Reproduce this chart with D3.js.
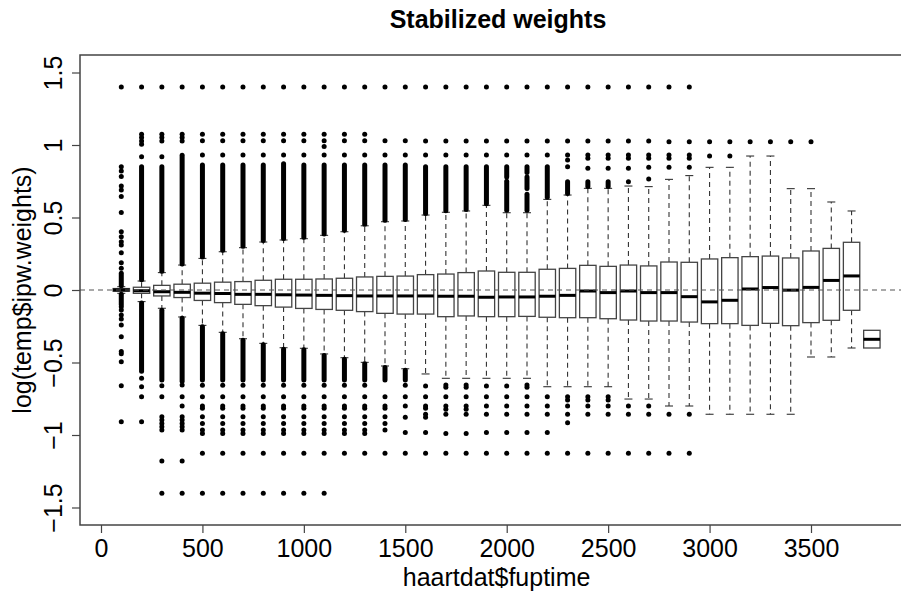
<!DOCTYPE html>
<html>
<head>
<meta charset="utf-8">
<script src="https://cdn.jsdelivr.net/npm/d3@7"></script>
<style>
    body { margin: 0; background: #fff; }
    #chartContainer { width: 901px; height: 593px; }
</style>
</head>
<body>
<div id="chartContainer"></div>
<script>
// follow-up time of each box (days)
const fuptime = [100, 200, 300, 400, 500, 600, 700, 800, 900, 1000,
    1100, 1200, 1300, 1400, 1500, 1600, 1700, 1800, 1900, 2000,
    2100, 2200, 2300, 2400, 2500, 2600, 2700, 2800, 2900, 3000,
    3100, 3200, 3300, 3400, 3500, 3600, 3700, 3800];

const upperQ = [0.010, 0.019, 0.032, 0.040, 0.047, 0.054, 0.058, 0.067, 0.074, 0.074,
    0.076, 0.081, 0.090, 0.094, 0.096, 0.106, 0.110, 0.120, 0.131, 0.122,
    0.122, 0.143, 0.149, 0.170, 0.163, 0.172, 0.166, 0.193, 0.191, 0.214,
    0.223, 0.230, 0.234, 0.221, 0.269, 0.287, 0.329, -0.278];

const medians = [0.000, -0.005, -0.012, -0.016, -0.022, -0.024, -0.030, -0.030, -0.033, -0.035,
    -0.037, -0.039, -0.041, -0.041, -0.041, -0.041, -0.043, -0.043, -0.050, -0.048,
    -0.048, -0.043, -0.037, -0.007, -0.018, -0.007, -0.018, -0.018, -0.046, -0.082,
    -0.071, 0.007, 0.017, -0.001, 0.018, 0.066, 0.097, -0.340];

const lowerQ = [-0.008, -0.023, -0.041, -0.052, -0.072, -0.087, -0.099, -0.108, -0.118, -0.127,
    -0.134, -0.140, -0.149, -0.161, -0.166, -0.166, -0.184, -0.179, -0.184, -0.184,
    -0.182, -0.188, -0.191, -0.191, -0.198, -0.207, -0.214, -0.214, -0.221, -0.232,
    -0.232, -0.244, -0.230, -0.246, -0.225, -0.209, -0.140, -0.400];

const whiskerHi = [0.023, 0.062, 0.120, 0.172, 0.218, 0.264, 0.292, 0.331, 0.345, 0.354,
    0.377, 0.402, 0.443, 0.471, 0.476, 0.517, 0.536, 0.545, 0.584, 0.533,
    0.533, 0.625, 0.655, 0.701, 0.701, 0.717, 0.713, 0.763, 0.789, 0.846,
    0.846, 0.924, 0.924, 0.699, 0.699, 0.607, 0.545, -0.278];

const whiskerLo = [-0.023, -0.080, -0.126, -0.186, -0.244, -0.292, -0.336, -0.368, -0.398, -0.402,
    -0.441, -0.467, -0.499, -0.524, -0.543, -0.579, -0.609, -0.609, -0.609, -0.609,
    -0.609, -0.667, -0.667, -0.667, -0.667, -0.752, -0.752, -0.800, -0.800, -0.857,
    -0.857, -0.857, -0.857, -0.857, -0.462, -0.462, -0.400, -0.400];

// single outlying points
const outliers = [
    [1.4, 0.85, 0.821, 0.782, 0.717, 0.69, 0.644, 0.534, 0.402, 0.368, 0.333, 0.31, 0.257, 0.188, 0.15,
        -0.115, -0.138, -0.172, -0.2, -0.241, -0.322, -0.425, -0.44, -0.494, -0.66, -0.908],
    [1.4, 1.074, 1.051, 1.028, 1.005, 0.919, -0.609, -0.667, -0.736, -0.908],
    [1.4, 1.074, 1.051, 1.028, 0.919, -0.66, -0.736, -0.874, -0.897, -0.92, -0.943, -0.966, -1.179, -1.402],
    [1.4, 1.074, 1.051, 1.028, -0.655, -0.736, -0.8, -0.874, -0.897, -0.92, -0.943, -0.966, -1.179, -1.402],
    [1.4, 1.074, 1.03, 0.931, -0.657, -0.736, -0.8, -0.816, -0.874, -0.92, -0.966, -0.989, -1.126, -1.402],
    [1.4, 1.074, 1.03, 0.931, -0.657, -0.736, -0.8, -0.816, -0.874, -0.92, -0.966, -0.989, -1.126, -1.402],
    [1.4, 1.074, 1.03, 0.931, -0.657, -0.736, -0.8, -0.816, -0.874, -0.92, -0.966, -0.989, -1.126, -1.402],
    [1.4, 1.074, 1.03, 0.931, -0.657, -0.736, -0.8, -0.816, -0.874, -0.92, -0.966, -0.989, -1.126, -1.402],
    [1.4, 1.074, 1.03, 0.931, -0.657, -0.736, -0.8, -0.816, -0.874, -0.92, -0.966, -0.989, -1.126, -1.402],
    [1.4, 1.074, 1.03, 0.931, -0.657, -0.736, -0.8, -0.816, -0.874, -0.92, -0.966, -0.989, -1.126, -1.402],
    [1.4, 1.074, 1.03, 0.99, 0.931, -0.657, -0.736, -0.8, -0.816, -0.874, -0.92, -0.966, -0.989, -1.126, -1.402],
    [1.4, 1.074, 1.03, 0.931, -0.657, -0.736, -0.8, -0.816, -0.874, -0.92, -0.966, -0.989, -1.126],
    [1.4, 1.074, 1.03, 0.931, -0.657, -0.736, -0.8, -0.816, -0.874, -0.92, -0.966, -0.989, -1.126],
    [1.4, 1.03, 0.931, -0.736, -0.8, -0.816, -0.874, -0.92, -0.966, -1.126],
    [1.4, 1.03, 0.931, -0.657, -0.736, -0.8, -0.878, -0.982, -1.126],
    [1.4, 1.028, 0.931, -0.662, -0.736, -0.8, -0.816, -0.857, -0.878, -0.982, -1.126],
    [1.4, 1.028, 0.931, -0.655, -0.67, -0.736, -0.8, -0.823, -0.857, -0.989, -1.126],
    [1.4, 1.028, 0.931, -0.655, -0.67, -0.736, -0.8, -0.823, -0.857, -0.989, -1.126],
    [1.4, 1.028, 0.931, -0.662, -0.736, -0.8, -0.857, -0.982, -1.126],
    [1.4, 1.028, 0.931, -0.662, -0.736, -0.8, -0.857, -0.982, -1.126],
    [1.4, 1.028, 0.931, -0.655, -0.67, -0.736, -0.8, -0.857, -0.982, -1.126],
    [1.4, 1.028, 0.931, -0.736, -0.8, -0.857, -0.982, -1.126],
    [1.4, 1.028, 0.931, 0.897, 0.85, -0.736, -0.759, -0.8, -0.857, -0.915, -1.126],
    [1.4, 1.028, 0.931, 0.908, 0.839, -0.736, -0.759, -0.8, -0.857, -1.126],
    [1.4, 1.028, 0.931, 0.908, 0.839, -0.736, -0.759, -0.8, -0.857, -1.126],
    [1.4, 1.028, 0.931, 0.908, 0.839, 0.747, -0.8, -0.857, -1.126],
    [1.4, 1.028, 0.931, 0.908, 0.846, 0.766, -0.8, -0.857, -1.126],
    [1.4, 1.023, 0.931, 0.908, 0.846, -0.857, -1.126],
    [1.4, 1.023, 0.931, 0.908, 0.846, -0.857, -1.126],
    [1.023, 0.924],
    [1.023, 0.924],
    [1.023],
    [1.023],
    [1.023],
    [1.023],
    [], [], []
];

// stretches where the outlying points overlap into a solid column
const outlierRuns = [
    [[0.03, 0.115], [-0.03, -0.1]],
    [[0.07, 0.85], [-0.09, -0.56]],
    [[0.13, 0.85], [-0.14, -0.62]],
    [[0.18, 0.93], [-0.195, -0.63]],
    [[0.228, 0.862], [-0.254, -0.62]],
    [[0.274, 0.862], [-0.302, -0.62]],
    [[0.302, 0.862], [-0.346, -0.62]],
    [[0.341, 0.862], [-0.378, -0.62]],
    [[0.355, 0.87], [-0.408, -0.62]],
    [[0.364, 0.862], [-0.412, -0.62]],
    [[0.387, 0.862], [-0.451, -0.62]],
    [[0.412, 0.862], [-0.477, -0.62]],
    [[0.453, 0.862], [-0.509, -0.62]],
    [[0.481, 0.862], [-0.534, -0.62]],
    [[0.486, 0.862], [-0.553, -0.62]],
    [[0.527, 0.85]],
    [[0.546, 0.85]],
    [[0.555, 0.85]],
    [[0.594, 0.85]],
    [[0.55, 0.75], [0.78, 0.85]],
    [[0.55, 0.66], [0.7, 0.78], [0.81, 0.85]],
    [[0.64, 0.85]],
    [[0.666, 0.747]],
    [[0.713, 0.747]],
    [[0.713, 0.747]],
    [], [], [], [], [], [], [], [], [], [], [], [], []
];

const xTicks = [0, 500, 1000, 1500, 2000, 2500, 3000, 3500];
const yTicks = [-1.5, -1, -0.5, 0, 0.5, 1, 1.5];

const titleText = 'Stabilized weights';
const xLabel = 'haartdat$fuptime';
const yLabel = 'log(temp$ipw.weights)';

function init() {
    const width = 901;
    const height = 593;
    const margin = { top: 55, right: -15, bottom: 68, left: 80 };
    const font = '"Liberation Sans", Arial, Helvetica, sans-serif';

    const svg = d3.select('#chartContainer')
        .append('svg')
        .attr('width', width)
        .attr('height', height)
        .style('background', '#fff')
        .style('font-family', font);

    const scX = d3.scaleLinear()
        .domain([-103.5, 4017.6])
        .range([margin.left, width - margin.right]);

    const scY = d3.scaleLinear()
        .domain([-1.6207, 1.6207])
        .range([height - margin.bottom, margin.top]);

    const boxHalf = 8.2;
    const stapleHalf = 4;
    const dotR = 2.5;
    const ink = '#000';

    const boxes = fuptime.map((t, i) => ({
        t: t, q3: upperQ[i], med: medians[i], q1: lowerQ[i],
        hi: whiskerHi[i], lo: whiskerLo[i],
        dots: outliers[i], runs: outlierRuns[i]
    }));

    const g = svg.append('g').attr('id', 'boxes');

    // whiskers
    g.selectAll('.whisker')
        .data(boxes.filter(d => d.hi > d.q3 || d.lo < d.q1))
        .enter()
        .append('g')
        .attr('class', 'whisker')
        .each(function (d) {
            const sel = d3.select(this);
            const x = scX(d.t);
            [[d.q3, d.hi], [d.q1, d.lo]].forEach(([a, b]) => {
                if (a === b) return;
                sel.append('line')
                    .attr('x1', x).attr('x2', x)
                    .attr('y1', scY(a)).attr('y2', scY(b))
                    .attr('stroke', '#333').attr('stroke-width', 1.1)
                    .attr('stroke-dasharray', '5,4');
                sel.append('line')
                    .attr('x1', x - stapleHalf).attr('x2', x + stapleHalf)
                    .attr('y1', scY(b)).attr('y2', scY(b))
                    .attr('stroke', '#333').attr('stroke-width', 1.1);
            });
        });

    // boxes
    g.selectAll('rect')
        .data(boxes)
        .enter()
        .append('rect')
        .attr('x', d => scX(d.t) - boxHalf)
        .attr('width', boxHalf * 2)
        .attr('y', d => scY(d.q3))
        .attr('height', d => scY(d.q1) - scY(d.q3))
        .attr('fill', '#fff')
        .attr('stroke', '#444')
        .attr('stroke-width', 1.3);

    g.selectAll('.median')
        .data(boxes)
        .enter()
        .append('line')
        .attr('class', 'median')
        .attr('x1', d => scX(d.t) - boxHalf)
        .attr('x2', d => scX(d.t) + boxHalf)
        .attr('y1', d => scY(d.med))
        .attr('y2', d => scY(d.med))
        .attr('stroke', '#000')
        .attr('stroke-width', 3);

    // reference line at 0
    svg.append('line')
        .attr('x1', margin.left).attr('x2', width - margin.right)
        .attr('y1', scY(0)).attr('y2', scY(0))
        .attr('stroke', '#555').attr('stroke-width', 1.1)
        .attr('stroke-dasharray', '5,4');

    // outliers
    const runs = [];
    const dots = [];
    boxes.forEach(d => {
        d.runs.forEach(r => runs.push({ t: d.t, a: r[0], b: r[1] }));
        d.dots.forEach(v => dots.push({ t: d.t, v: v }));
    });

    svg.append('g')
        .selectAll('line')
        .data(runs)
        .enter()
        .append('line')
        .attr('x1', d => scX(d.t)).attr('x2', d => scX(d.t))
        .attr('y1', d => scY(d.a)).attr('y2', d => scY(d.b))
        .attr('stroke', ink)
        .attr('stroke-width', dotR * 2)
        .attr('stroke-linecap', 'round');

    svg.append('g')
        .selectAll('circle')
        .data(dots)
        .enter()
        .append('circle')
        .attr('cx', d => scX(d.t))
        .attr('cy', d => scY(d.v))
        .attr('r', dotR)
        .attr('fill', ink);

    // frame
    svg.append('rect')
        .attr('x', margin.left)
        .attr('y', margin.top)
        .attr('width', width - margin.right - margin.left)
        .attr('height', height - margin.bottom - margin.top)
        .attr('fill', 'none')
        .attr('stroke', '#444')
        .attr('stroke-width', 1.5);

    // X axis
    const xAxis = d3.axisBottom(scX)
        .tickValues(xTicks)
        .tickSize(8)
        .tickPadding(6)
        .tickFormat(d3.format('d'));

    const gx = svg.append('g')
        .attr('transform', `translate(0, ${height - margin.bottom})`)
        .call(xAxis);
    gx.select('.domain').remove();
    gx.selectAll('line').attr('stroke', '#444').attr('stroke-width', 1.2);
    gx.selectAll('text')
        .attr('fill', '#000')
        .style('font-family', font)
        .style('font-size', '25px');

    // Y axis, labels turned like R's default
    const yAxis = d3.axisLeft(scY)
        .tickValues(yTicks)
        .tickSize(8)
        .tickFormat(d => d === 0 ? '0' : (d < 0 ? '\u2212' : '') + Math.abs(d));

    const gy = svg.append('g')
        .attr('transform', `translate(${margin.left}, 0)`)
        .call(yAxis);
    gy.select('.domain').remove();
    gy.selectAll('line').attr('stroke', '#444').attr('stroke-width', 1.2);
    gy.selectAll('text')
        .attr('x', 0).attr('dy', null)
        .attr('text-anchor', 'middle')
        .attr('transform', 'translate(-18, 0) rotate(-90)')
        .attr('fill', '#000')
        .style('font-family', font)
        .style('font-size', '25px');

    // titles
    svg.append('text')
        .attr('x', 498).attr('y', 28)
        .attr('text-anchor', 'middle')
        .style('font-size', '25px')
        .style('font-weight', 'bold')
        .text(titleText);

    svg.append('text')
        .attr('x', scX(1950)).attr('y', 586)
        .attr('text-anchor', 'middle')
        .style('font-size', '25px')
        .text(xLabel);

    svg.append('text')
        .attr('transform', `translate(31, ${scY(0)}) rotate(-90)`)
        .attr('text-anchor', 'middle')
        .style('font-size', '25px')
        .text(yLabel);
}

init();
</script>
</body>
</html>
